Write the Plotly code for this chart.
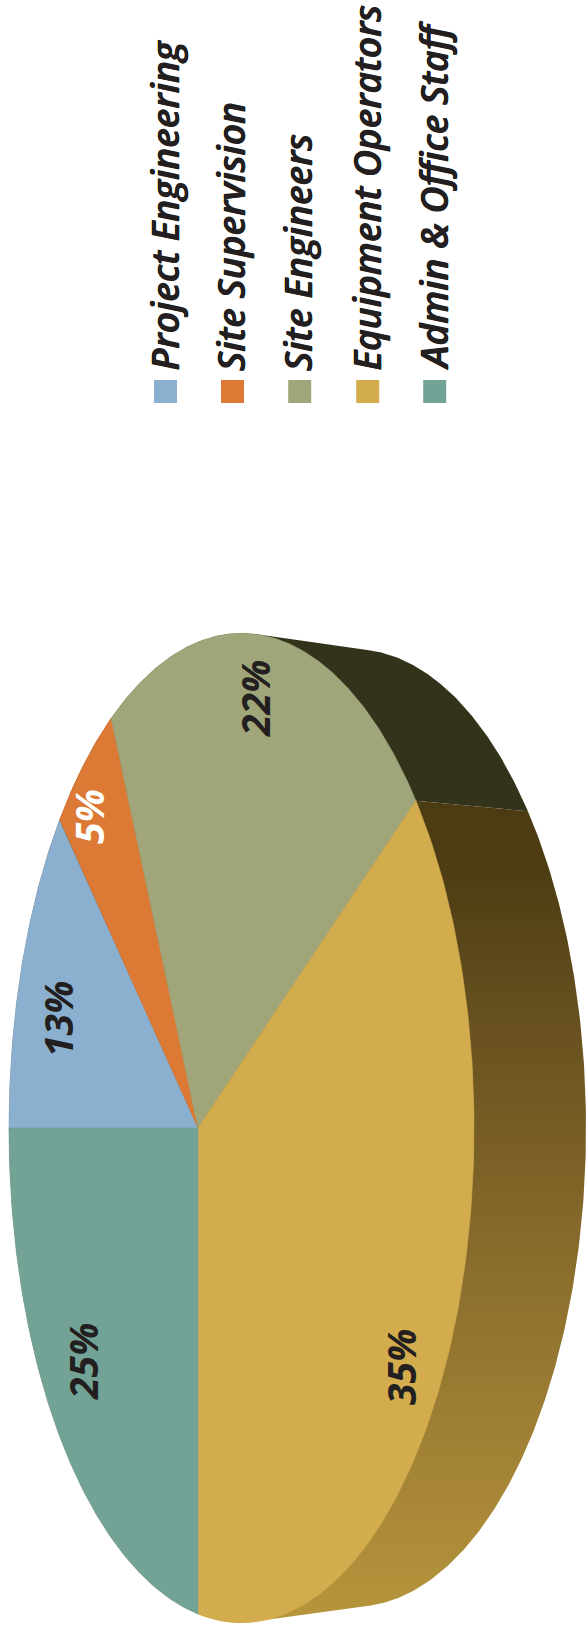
import numpy as np
import plotly.graph_objects as go

# ---- data ----
categories = ["Project Engineering", "Site Supervision", "Site Engineers",
              "Equipment Operators", "Admin & Office Staff"]
shares = [12.7, 5.45, 22.2, 34.65, 25.0]      # labelled 13 / 5 / 22 / 35 / 25 after rounding
colors = ["#8bafce", "#dc7a35", "#a0a67a", "#d3ad4d", "#72a396"]
label_colors = ["#231f20", "#ffffff", "#231f20", "#231f20", "#231f20"]

# ---- layout / style (pixel space of the 587x1633 page) ----
W, H = 587, 1633
CX, CY = 198, 1128
A, B, KC, KS = 224.4, 486.0, -0.187, 0.0
DX, SX, SY = 112, 1.0, 0.968
DARK_SIDE = "#33331b"
GOLD_SIDE_SCALE = [[0, "#4a3a12"], [0.12, "#4e3d14"], [0.32, "#6a5320"], [0.55, "#876a2b"],
                   [0.78, "#a08034"], [1, "#b6953c"]]
LEGEND_X = [165.5, 232.5, 299.7, 367.7, 434.7]
LEGEND_Y = 391.5
LEGEND_TEXT_X = [163.5, 230.5, 297.7, 365.7, 432.7]
LEGEND_TEXT_BOTTOM = 373
LABEL_POS = [(57, 1019), (88, 817), (254, 699), (400, 1367), (82, 1362)]


def top(theta):
    """Perspective projection of the pie disc; theta runs clockwise from the left."""
    c, s = -np.cos(theta), np.sin(theta)
    d = 1 + KC * c + KS * s
    return CX + A * c / d, CY - B * s / d


def bottom(theta):
    x, y = top(theta)
    return CX + DX + SX * (x - CX), CY + SY * (y - CY)


def hull(pts):
    pts = sorted(set(pts))
    def half(seq):
        out = []
        for p in seq:
            while len(out) > 1 and ((out[-1][0]-out[-2][0])*(p[1]-out[-2][1])
                                    - (out[-1][1]-out[-2][1])*(p[0]-out[-2][0])) <= 0:
                out.pop()
            out.append(p)
        return out
    lo, up = half(pts), half(pts[::-1])
    return lo[:-1] + up[:-1]


def clip(poly, a, b, keep):
    """Clip polygon by the line a-b, keeping the side with sign `keep`."""
    def side(p):
        return keep * ((b[0]-a[0])*(p[1]-a[1]) - (b[1]-a[1])*(p[0]-a[0]))
    out = []
    for i, p in enumerate(poly):
        q = poly[(i+1) % len(poly)]
        sp, sq = side(p), side(q)
        if sp >= 0:
            out.append(p)
        if sp * sq < 0:
            t = sp / (sp - sq)
            out.append((p[0] + t*(q[0]-p[0]), p[1] + t*(q[1]-p[1])))
    return out


fracs = np.cumsum([0] + shares) / sum(shares) * 2 * np.pi
ring = np.linspace(0, 2*np.pi, 721)[:-1]
pts = [tuple(map(float, top(t))) for t in ring] + [tuple(map(float, bottom(t))) for t in ring]
sil = hull(pts)
cut = fracs[3]                                    # boundary between Site Engineers and Equipment
a, b = tuple(map(float, top(cut))), tuple(map(float, bottom(cut)))

fig = go.Figure()
upper = clip(sil, a, b, -1)
lower = clip(sil, a, b, 1)
if min(p[1] for p in upper) > min(p[1] for p in lower):
    upper, lower = lower, upper
fig.add_trace(go.Scatter(x=[p[0] for p in upper] + [upper[0][0]], y=[p[1] for p in upper] + [upper[0][1]],
                         mode="lines", fill="toself", fillcolor=DARK_SIDE, line=dict(width=0),
                         hoverinfo="skip", showlegend=False))
fig.add_trace(go.Scatter(x=[p[0] for p in lower] + [lower[0][0]], y=[p[1] for p in lower] + [lower[0][1]],
                         mode="lines", line=dict(width=0), fill="toself",
                         fillgradient=dict(type="vertical", colorscale=GOLD_SIDE_SCALE,
                                           start=min(p[1] for p in lower), stop=max(p[1] for p in lower)),
                         hoverinfo="skip", showlegend=False))

for i, name in enumerate(categories):
    th = np.linspace(fracs[i], fracs[i+1], 160)
    x, y = top(th)
    fig.add_trace(go.Scatter(x=np.r_[CX, x, CX], y=np.r_[CY, y, CY], mode="lines", fill="toself",
                             fillcolor=colors[i], line=dict(width=0.6, color=colors[i]),
                             name=name, showlegend=False, hoverinfo="name"))

fig.add_trace(go.Scatter(x=LEGEND_X, y=[LEGEND_Y]*5, mode="markers",
                         marker=dict(symbol="square", size=23, color=colors, line=dict(width=0)),
                         hoverinfo="skip", showlegend=False))

ann = []
for i, name in enumerate(categories):
    ann.append(dict(x=LEGEND_TEXT_X[i], y=LEGEND_TEXT_BOTTOM, text=name, textangle=-90, showarrow=False,
                    xanchor="center", yanchor="bottom", xref="x", yref="y",
                    font=dict(family="Open Sans", size=37.2, style="italic", weight=600, color="#231f20",
                              shadow="0.6px 0 0 #231f20, -0.4px 0 0 #231f20")))
    lx, ly = LABEL_POS[i]
    ann.append(dict(x=lx, y=ly, text=f"{shares[i]:.0f}%", textangle=-90, showarrow=False,
                    xanchor="center", yanchor="middle", xref="x", yref="y",
                    font=dict(family="Open Sans", size=39, style="italic", weight=700, color=label_colors[i])))

fig.update_layout(width=W, height=H, margin=dict(l=0, r=0, t=0, b=0), autosize=False,
                  paper_bgcolor="white", plot_bgcolor="white", annotations=ann, showlegend=False,
                  xaxis=dict(range=[0, W], visible=False, fixedrange=True),
                  yaxis=dict(range=[H, 0], visible=False, fixedrange=True))
fig.write_html("out.html", config={"displayModeBar": False},
               post_script="document.body.style.margin='0';document.documentElement.style.overflow='hidden';")
